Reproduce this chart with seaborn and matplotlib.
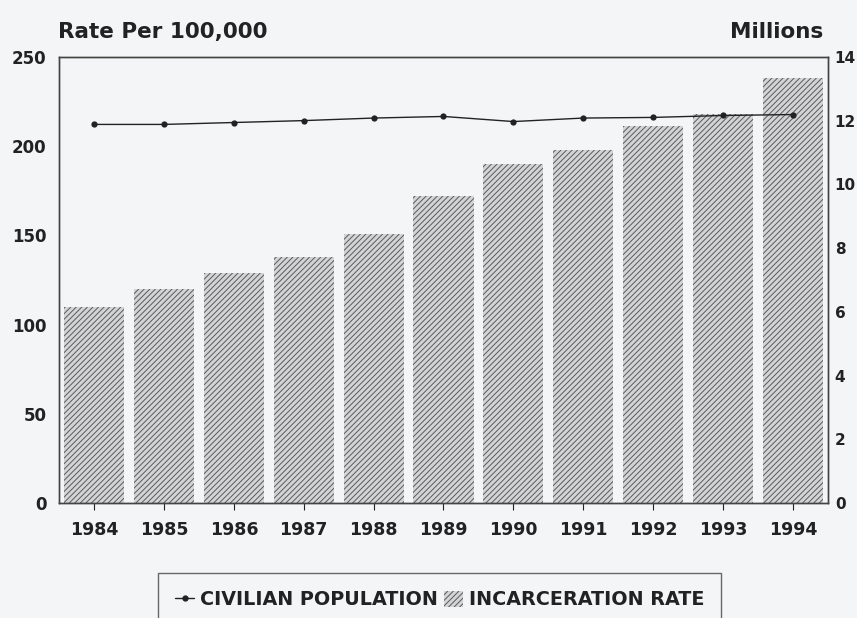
import numpy as np
import pandas as pd
import matplotlib
matplotlib.use("Agg")
import matplotlib.pyplot as plt
import seaborn as sns
from matplotlib.lines import Line2D
from matplotlib.patches import Patch

years = ["1984", "1985", "1986", "1987", "1988", "1989", "1990", "1991", "1992", "1993", "1994"]
incarceration_rate = [110, 120, 129, 138, 151, 172, 190, 198, 211, 218, 238]
civilian_population = [11.88, 11.88, 11.94, 12.0, 12.08, 12.13, 11.97, 12.08, 12.1, 12.16, 12.19]
left_ticks = [0, 50, 100, 150, 200, 250]
right_ticks = [0, 2, 4, 6, 8, 10, 12, 14]

bg = "#f3f5f7"
sns.set_theme(style="white")
plt.rcParams["font.family"] = ["DejaVu Sans"]
plt.rcParams["hatch.linewidth"] = 0.7
plt.rcParams["hatch.color"] = "#5a5a5a"

df = pd.DataFrame({"year": years, "rate": incarceration_rate, "pop": civilian_population,
                   "pos": np.arange(len(years))})

fig = plt.figure(figsize=(8.57, 6.18), dpi=100, facecolor=bg)
ax = fig.add_axes([0.069, 0.186, 0.897, 0.722])
ax.set_facecolor(bg)

sns.barplot(data=df, x="year", y="rate", ax=ax, color="#d2d4d6", width=0.86,
            edgecolor="#5a5a5a", linewidth=0, saturation=1)
for p in ax.patches:
    p.set_hatch("//////")

ax.set_ylim(0, 250)
ax.set_xlim(-0.5, len(years) - 0.5)
ax.set_yticks(left_ticks)
ax.set_xlabel("")
ax.set_ylabel("")
ax.tick_params(axis="y", length=0, pad=9, labelsize=12, colors="#222222")
ax.tick_params(axis="x", length=5, width=0.8, direction="out", pad=8, labelsize=12.5,
               colors="#222222", bottom=True)
for t in ax.get_xticklabels() + ax.get_yticklabels():
    t.set_fontweight("bold")
for s in ax.spines.values():
    s.set_color("#444444")
    s.set_linewidth(1.0)

ax2 = ax.twinx()
sns.lineplot(data=df, x="pos", y="pop", ax=ax2, color="#222222", linewidth=1.0,
             marker="o", markersize=4.5, markeredgewidth=0)
ax2.set_ylim(0, 14)
ax2.set_yticks(right_ticks)
ax2.set_xlim(-0.5, len(years) - 0.5)
ax2.set_ylabel("")
ax2.set_xlabel("")
ax2.tick_params(axis="y", length=0, pad=5, labelsize=11, colors="#222222")
for t in ax2.get_yticklabels():
    t.set_fontweight("bold")
for s in ax2.spines.values():
    s.set_color("#444444")
    s.set_linewidth(1.0)

fig.text(0.068, 0.948, "Rate Per 100,000", fontsize=15.5, fontweight="bold",
         color="#222222", ha="left", va="center")
fig.text(0.961, 0.948, "Millions", fontsize=15.5, fontweight="bold",
         color="#222222", ha="right", va="center")

handles = [
    Line2D([0], [0], color="#222222", lw=1.0, marker="o", markersize=3.5),
    Patch(facecolor="#d2d4d6", edgecolor="#5a5a5a", linewidth=0, hatch="//////"),
]
leg = fig.legend(handles, ["CIVILIAN POPULATION", "INCARCERATION RATE"],
                 loc="upper center", bbox_to_anchor=(0.513, 1 - 573 / 618), ncol=2,
                 borderaxespad=0, frameon=True, fancybox=False, handlelength=1.0,
                 handleheight=0.9, handletextpad=0.3, columnspacing=0.3, borderpad=0.9,
                 prop={"family": ["DejaVu Sans"], "weight": "bold", "size": 13.8})
leg.get_frame().set_edgecolor("#444444")
leg.get_frame().set_linewidth(1.0)
leg.get_frame().set_facecolor(bg)
for t in leg.get_texts():
    t.set_color("#222222")

fig.savefig("out.png", dpi=100, facecolor=bg)
